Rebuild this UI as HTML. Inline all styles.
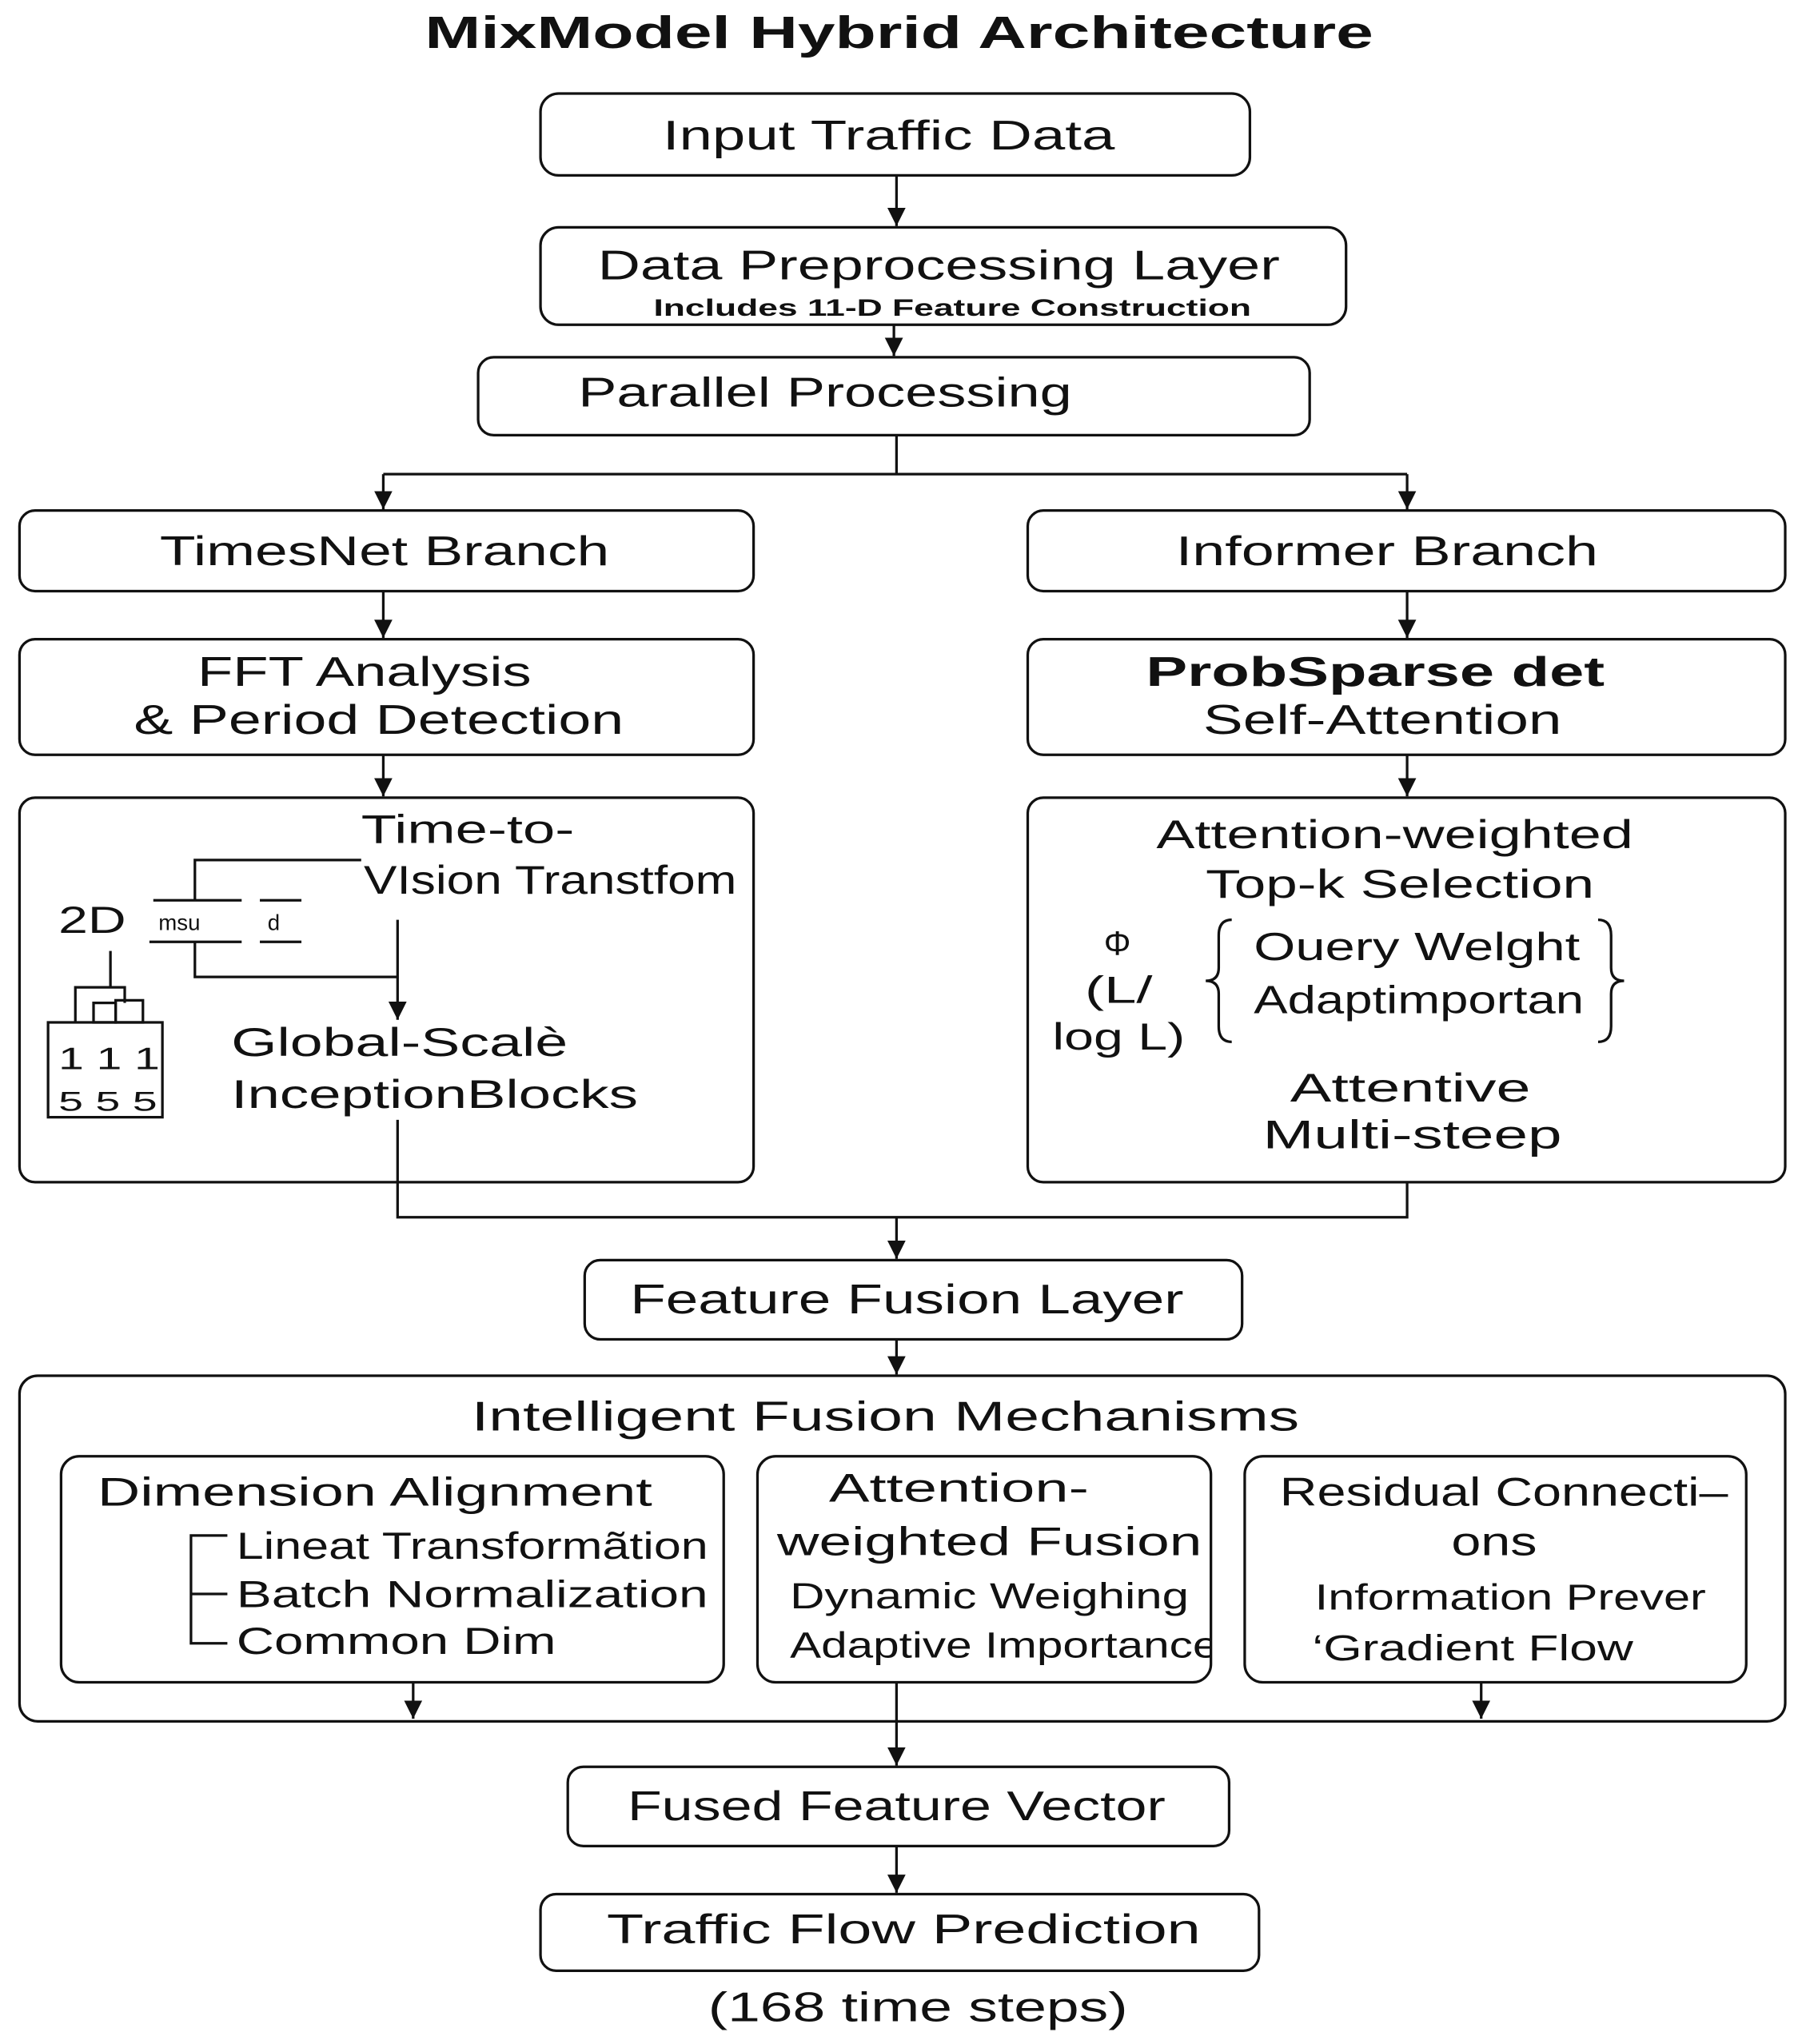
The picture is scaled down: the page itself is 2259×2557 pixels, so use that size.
<!DOCTYPE html>
<html><head><meta charset="utf-8"><style>
html,body{margin:0;padding:0;background:#fff}
svg{display:block}
text{font-family:"Liberation Sans",Arial,sans-serif;fill:#111}
</style></head><body>
<svg width="2259" height="2557" viewBox="0 0 1390 1573.4" preserveAspectRatio="none" xmlns="http://www.w3.org/2000/svg">
<defs><marker id="a" markerWidth="14" markerHeight="14" refX="12" refY="6" orient="auto" markerUnits="userSpaceOnUse" viewBox="0 0 12 12"><path d="M0,0 L12,6 L0,12 z" fill="#111"/></marker></defs>
<g fill="none" stroke="#111" stroke-width="2">
<rect x="416" y="72" width="546" height="63" rx="14"/>
<rect x="416" y="175" width="620" height="75" rx="14"/>
<rect x="368" y="275" width="640" height="60" rx="12"/>
<rect x="15" y="393" width="565" height="62" rx="12"/>
<rect x="791" y="393" width="583" height="62" rx="12"/>
<rect x="15" y="492" width="565" height="89" rx="12"/>
<rect x="791" y="492" width="583" height="89" rx="12"/>
<rect x="15" y="614" width="565" height="296" rx="12"/>
<rect x="791" y="614" width="583" height="296" rx="12"/>
<rect x="450" y="970" width="506" height="61" rx="12"/>
<rect x="15" y="1059" width="1359" height="266" rx="14"/>
<rect x="47" y="1121" width="510" height="174" rx="14"/>
<rect x="583" y="1121" width="349" height="174" rx="14"/>
<rect x="958" y="1121" width="386" height="174" rx="14"/>
<rect x="437" y="1360" width="509" height="61" rx="12"/>
<rect x="416" y="1458" width="553" height="59" rx="12"/>
<line x1="690" y1="135" x2="690" y2="174" marker-end="url(#a)"/>
<line x1="688" y1="250" x2="688" y2="274" marker-end="url(#a)"/>
<polyline points="690,335 690,365"/>
<polyline points="295,365 1083,365"/>
<line x1="1083" y1="365" x2="1083" y2="392" marker-end="url(#a)"/>
<line x1="295" y1="365" x2="295" y2="392" marker-end="url(#a)"/>
<line x1="295" y1="455" x2="295" y2="491" marker-end="url(#a)"/>
<line x1="1083" y1="455" x2="1083" y2="491" marker-end="url(#a)"/>
<line x1="295" y1="581" x2="295" y2="613" marker-end="url(#a)"/>
<line x1="1083" y1="581" x2="1083" y2="613" marker-end="url(#a)"/>
<polyline points="306,862 306,937 1083,937 1083,910"/>
<line x1="690" y1="937" x2="690" y2="969" marker-end="url(#a)"/>
<line x1="690" y1="1031" x2="690" y2="1058" marker-end="url(#a)"/>
<line x1="318" y1="1295" x2="318" y2="1323" marker-end="url(#a)"/>
<line x1="1140" y1="1295" x2="1140" y2="1323" marker-end="url(#a)"/>
<line x1="690" y1="1295" x2="690" y2="1359" marker-end="url(#a)"/>
<line x1="690" y1="1421" x2="690" y2="1457" marker-end="url(#a)"/>
<polyline points="278,662 150,662 150,693"/>
<polyline points="150,725 150,752 306,752"/>
<line x1="306" y1="708" x2="306" y2="785" marker-end="url(#a)"/>
<line x1="118" y1="693" x2="186" y2="693"/><line x1="200" y1="693" x2="232" y2="693"/>
<line x1="115" y1="725" x2="186" y2="725"/><line x1="200" y1="725" x2="232" y2="725"/>
<line x1="85" y1="732" x2="85" y2="760"/>
<polyline points="58,787 58,760 96,760 96,772"/>
<rect x="72" y="772" width="17" height="15"/><rect x="89" y="770" width="21" height="17"/>
<rect x="37" y="787" width="88" height="73"/>
<path d="M948,708 Q938,708 938,720 L938,745 Q938,755 928,755 Q938,755 938,765 L938,790 Q938,802 948,802"/>
<path d="M1230,708 Q1240,708 1240,720 L1240,745 Q1240,755 1250,755 Q1240,755 1240,765 L1240,790 Q1240,802 1230,802"/>
<polyline points="175,1182 147,1182 147,1265 175,1265"/>
<line x1="147" y1="1227" x2="175" y2="1227"/>
</g>
<g lengthAdjust="spacingAndGlyphs">
<text x="327" y="37" font-size="35" font-weight="bold" textLength="730" lengthAdjust="spacingAndGlyphs">MixModel Hybrid Architecture</text>
<text x="510" y="115" font-size="32" textLength="348" lengthAdjust="spacingAndGlyphs">Input Traffic Data</text>
<text x="460" y="215" font-size="32" textLength="525" lengthAdjust="spacingAndGlyphs">Data Preprocessing Layer</text>
<text x="503" y="243" font-size="18" font-weight="bold" textLength="460" lengthAdjust="spacingAndGlyphs">Includes 11-D Feature Construction</text>
<text x="445" y="313" font-size="32" textLength="380" lengthAdjust="spacingAndGlyphs">Parallel Processing</text>
<text x="123" y="435" font-size="32" textLength="346" lengthAdjust="spacingAndGlyphs">TimesNet Branch</text>
<text x="905" y="435" font-size="32" textLength="325" lengthAdjust="spacingAndGlyphs">Informer Branch</text>
<text x="152" y="528" font-size="32" textLength="257" lengthAdjust="spacingAndGlyphs">FFT Analysis</text>
<text x="103" y="565" font-size="32" textLength="377" lengthAdjust="spacingAndGlyphs">&amp; Period Detection</text>
<text x="882" y="528" font-size="32" font-weight="bold" textLength="353" lengthAdjust="spacingAndGlyphs">ProbSparse det</text>
<text x="926" y="565" font-size="32" textLength="276" lengthAdjust="spacingAndGlyphs">Self-Attention</text>
<text x="278" y="649" font-size="31" textLength="164" lengthAdjust="spacingAndGlyphs">Time-to-</text>
<text x="280" y="688" font-size="31" textLength="287" lengthAdjust="spacingAndGlyphs">VIsion Transtfom</text>
<text x="45" y="718" font-size="29" textLength="52" lengthAdjust="spacingAndGlyphs">2D</text>
<text x="122" y="716" font-size="17">msu</text><text x="206" y="716" font-size="17">d</text>
<text x="45" y="823" font-size="24" font-family="Liberation Serif" textLength="78" lengthAdjust="spacingAndGlyphs">1 1 1</text>
<text x="45" y="855" font-size="21" font-family="Liberation Serif" textLength="76" lengthAdjust="spacingAndGlyphs">5 5 5</text>
<text x="178" y="813" font-size="31" textLength="259" lengthAdjust="spacingAndGlyphs">Global-Scalè</text>
<text x="178" y="853" font-size="31" textLength="313" lengthAdjust="spacingAndGlyphs">InceptionBlocks</text>
<text x="890" y="653" font-size="31" textLength="367" lengthAdjust="spacingAndGlyphs">Attention-weighted</text>
<text x="928" y="691" font-size="31" textLength="299" lengthAdjust="spacingAndGlyphs">Top-k Selection</text>
<text x="860" y="735" font-size="26" text-anchor="middle">Φ</text>
<text x="835" y="772" font-size="29" textLength="52" lengthAdjust="spacingAndGlyphs">(L/</text>
<text x="810" y="808" font-size="29" textLength="102" lengthAdjust="spacingAndGlyphs">log L)</text>
<text x="965" y="739" font-size="30" textLength="251" lengthAdjust="spacingAndGlyphs">Ouery Welght</text>
<text x="965" y="780" font-size="30" textLength="254" lengthAdjust="spacingAndGlyphs">Adaptimportan</text>
<text x="993" y="848" font-size="31" textLength="185" lengthAdjust="spacingAndGlyphs">Attentive</text>
<text x="972" y="884" font-size="31" textLength="230" lengthAdjust="spacingAndGlyphs">Multi-steep</text>
<text x="485" y="1011" font-size="32" textLength="426" lengthAdjust="spacingAndGlyphs">Feature Fusion Layer</text>
<text x="363" y="1101" font-size="32" textLength="637" lengthAdjust="spacingAndGlyphs">Intelligent Fusion Mechanisms</text>
<text x="75" y="1159" font-size="31" textLength="427" lengthAdjust="spacingAndGlyphs">Dimension Alignment</text>
<text x="182" y="1200" font-size="29" textLength="363" lengthAdjust="spacingAndGlyphs">Lineat Transformãtion</text>
<text x="182" y="1237" font-size="29" textLength="363" lengthAdjust="spacingAndGlyphs">Batch Normalization</text>
<text x="182" y="1273" font-size="29" textLength="246" lengthAdjust="spacingAndGlyphs">Common Dim</text>
<text x="638" y="1156" font-size="31" textLength="200" lengthAdjust="spacingAndGlyphs">Attention-</text>
<text x="598" y="1197" font-size="31" textLength="327" lengthAdjust="spacingAndGlyphs">weighted Fusion</text>
<text x="608" y="1238" font-size="28" textLength="307" lengthAdjust="spacingAndGlyphs">Dynamic Weighing</text>
<svg x="583" y="1121" width="349" height="174" overflow="hidden"><text x="25" y="155" font-size="28" textLength="330" lengthAdjust="spacingAndGlyphs">Adaptive Importance</text></svg>
<text x="985" y="1159" font-size="31" textLength="345" lengthAdjust="spacingAndGlyphs">Residual Connecti–</text>
<text x="1117" y="1197" font-size="31" textLength="66" lengthAdjust="spacingAndGlyphs">ons</text>
<text x="1012" y="1239" font-size="28" textLength="301" lengthAdjust="spacingAndGlyphs">Information Prever</text>
<text x="1010" y="1278" font-size="28" textLength="247" lengthAdjust="spacingAndGlyphs">‘Gradient Flow</text>
<text x="483" y="1401" font-size="32" textLength="414" lengthAdjust="spacingAndGlyphs">Fused Feature Vector</text>
<text x="467" y="1496" font-size="32" textLength="457" lengthAdjust="spacingAndGlyphs">Traffic Flow Prediction</text>
<text x="545" y="1556" font-size="32" textLength="323" lengthAdjust="spacingAndGlyphs">(168 time steps)</text>
</g>
</svg>
</body></html>
